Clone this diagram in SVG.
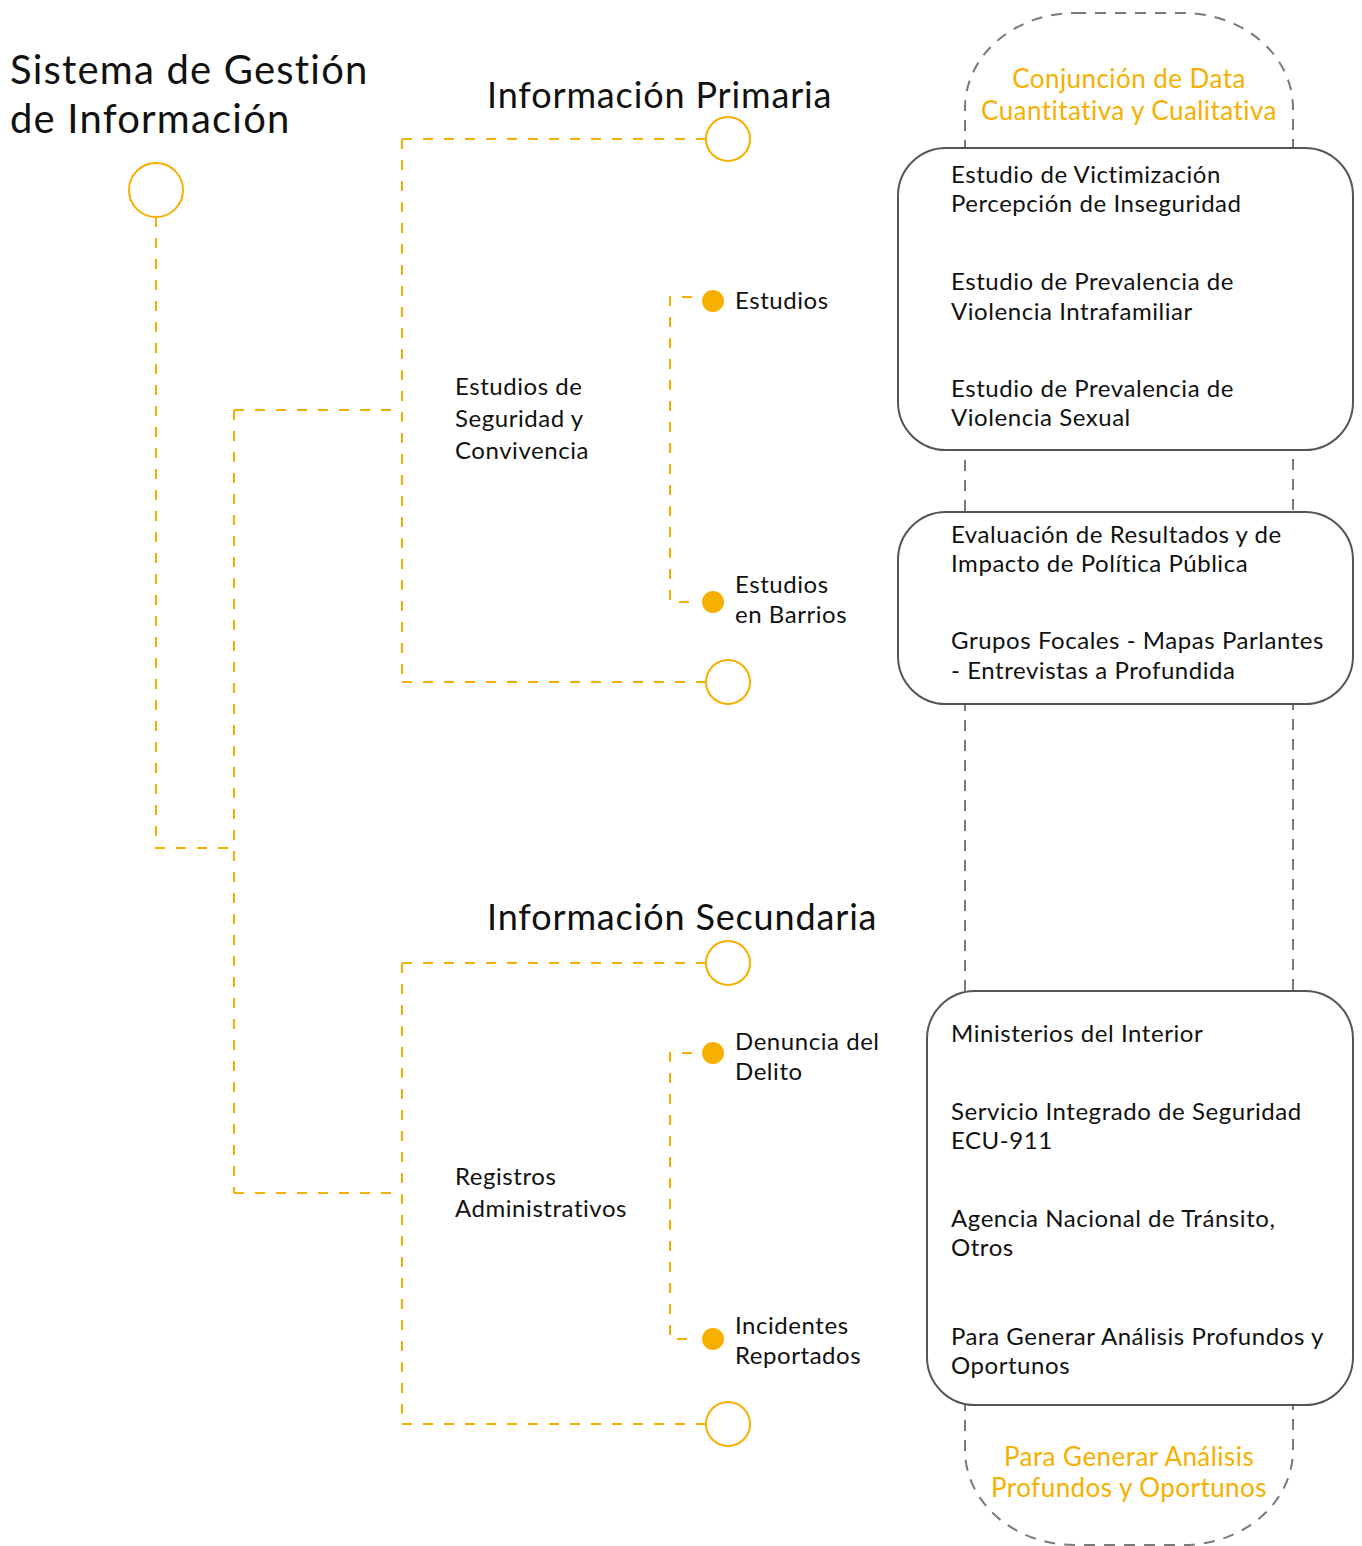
<svg xmlns="http://www.w3.org/2000/svg" width="1362" height="1546" viewBox="0 0 1362 1546">
<style>
.o{fill:none;stroke:#F5B000;stroke-width:2;stroke-dasharray:10 11}
.g{fill:none;stroke:#7a7a7a;stroke-width:2;stroke-dasharray:11 9}
.ring{fill:#fff;stroke:#F5B000;stroke-width:2}
.dot{fill:#F5B000}
.box{fill:#fff;stroke:#555;stroke-width:2}
text{font-family:Lato,"Open Sans","Liberation Sans",sans-serif;fill:#111}
.t1{font-size:40px;letter-spacing:1.2px}
.t2{font-size:36px;letter-spacing:0.85px}
.t3{font-size:24px;letter-spacing:0.55px}
.or{fill:#F5B000;font-size:26px;text-anchor:middle;letter-spacing:0.45px}
</style>
<g id="capsule">
<rect class="g" x="965" y="13" width="328" height="1532" rx="110" ry="95"/>
</g>
<g id="connectors">
<path class="o" d="M156 217 V848 H234"/>
<path class="o" d="M234 410 V1193"/>
<path class="o" d="M234 410 H402"/>
<path class="o" d="M402 139 V682"/>
<path class="o" d="M402 139 H706"/>
<path class="o" d="M402 682 H706"/>
<path class="o" d="M234 1193 H402"/>
<path class="o" d="M402 963 V1424"/>
<path class="o" d="M402 963 H706"/>
<path class="o" d="M402 1424 H706"/>
<path class="o" d="M692 297 H670 V602 H692"/>
<path class="o" d="M692 1053 H670 V1339 H692"/>
</g>
<g id="title">
<text class="t1" x="10" y="84">Sistema de Gestión</text>
<text class="t1" x="10" y="133">de Información</text>
</g>
<g id="root"><circle class="ring" cx="156" cy="190" r="27"/></g>
<g id="primaria">
<text class="t2" x="487" y="108">Información Primaria</text>
<circle class="ring" cx="728" cy="139" r="22"/>
</g>
<g id="primaria-end"><circle class="ring" cx="728" cy="682" r="22"/></g>
<g id="estudios-seguridad">
<text class="t3" x="455" y="395">Estudios de</text>
<text class="t3" x="455" y="427">Seguridad y</text>
<text class="t3" x="455" y="459">Convivencia</text>
</g>
<g id="estudios">
<circle class="dot" cx="713" cy="301" r="11"/>
<text class="t3" x="735" y="309">Estudios</text>
</g>
<g id="estudios-barrios">
<circle class="dot" cx="713" cy="602" r="11"/>
<text class="t3" x="735" y="593">Estudios</text>
<text class="t3" x="735" y="623">en Barrios</text>
</g>
<g id="secundaria">
<text class="t2" x="487" y="930">Información Secundaria</text>
<circle class="ring" cx="728" cy="963" r="22"/>
</g>
<g id="secundaria-end"><circle class="ring" cx="728" cy="1424" r="22"/></g>
<g id="registros">
<text class="t3" x="455" y="1185">Registros</text>
<text class="t3" x="455" y="1217">Administrativos</text>
</g>
<g id="denuncia">
<circle class="dot" cx="713" cy="1053" r="11"/>
<text class="t3" x="735" y="1050">Denuncia del</text>
<text class="t3" x="735" y="1080">Delito</text>
</g>
<g id="incidentes">
<circle class="dot" cx="713" cy="1339" r="11"/>
<text class="t3" x="735" y="1334">Incidentes</text>
<text class="t3" x="735" y="1364">Reportados</text>
</g>
<g id="conjuncion">
<text class="or" x="1129" y="88">Conjunción de Data</text>
<text class="or" x="1129" y="120">Cuantitativa y Cualitativa</text>
</g>
<g id="box1">
<rect class="box" x="898" y="148" width="455" height="302" rx="48"/>
<text class="t3" x="951" y="183">Estudio de Victimización</text>
<text class="t3" x="951" y="212">Percepción de Inseguridad</text>
<text class="t3" x="951" y="290">Estudio de Prevalencia de</text>
<text class="t3" x="951" y="320">Violencia Intrafamiliar</text>
<text class="t3" x="951" y="397">Estudio de Prevalencia de</text>
<text class="t3" x="951" y="426">Violencia Sexual</text>
</g>
<g id="box2">
<rect class="box" x="898" y="512" width="455" height="192" rx="48"/>
<text class="t3" x="951" y="543">Evaluación de Resultados y de</text>
<text class="t3" x="951" y="572">Impacto de Política Pública</text>
<text class="t3" x="951" y="649">Grupos Focales - Mapas Parlantes</text>
<text class="t3" x="951" y="679">- Entrevistas a Profundida</text>
</g>
<g id="box3">
<rect class="box" x="927" y="991" width="426" height="414" rx="48"/>
<text class="t3" x="951" y="1042">Ministerios del Interior</text>
<text class="t3" x="951" y="1120">Servicio Integrado de Seguridad</text>
<text class="t3" x="951" y="1149">ECU-911</text>
<text class="t3" x="951" y="1227">Agencia Nacional de Tránsito,</text>
<text class="t3" x="951" y="1256">Otros</text>
<text class="t3" x="951" y="1345">Para Generar Análisis Profundos y</text>
<text class="t3" x="951" y="1374">Oportunos</text>
</g>
<g id="para-generar">
<text class="or" x="1129" y="1466">Para Generar Análisis</text>
<text class="or" x="1129" y="1497">Profundos y Oportunos</text>
</g>
</svg>
